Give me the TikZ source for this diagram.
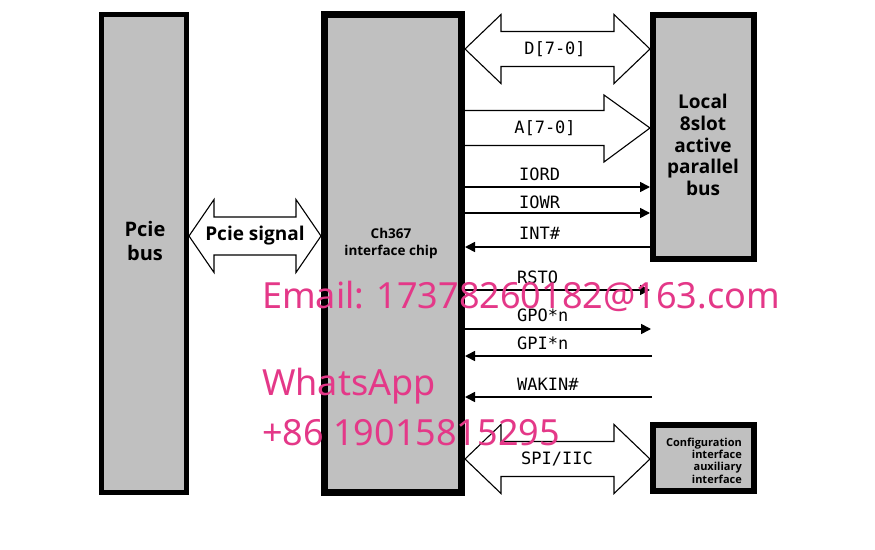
\documentclass[tikz,border=0pt]{standalone}
\usepackage{fontspec}
\setmainfont{Open Sans}
\newfontfamily\wmf{Noto Sans}
\newfontfamily\monof{DejaVu Sans Mono}
\usetikzlibrary{arrows.meta,calc}
\definecolor{boxgray}{RGB}{192,192,192}
\definecolor{wmpink}{RGB}{228,56,136}
\newcommand\dblblock[6]{%
  \draw[blockarrow] (#1,#3) -- (#1+#6,#3-#5) -- (#1+#6,#3-#4) -- (#2-#6,#3-#4) -- (#2-#6,#3-#5) -- (#2,#3)
    -- (#2-#6,#3+#5) -- (#2-#6,#3+#4) -- (#1+#6,#3+#4) -- (#1+#6,#3+#5) -- cycle;}
\tikzset{
  box/.style={draw=black, fill=boxgray, inner sep=0pt},
  blockarrow/.style={draw=black, line width=1.1pt, fill=white, line join=miter},
  sig/.style={draw=black, line width=1.6pt, -{Triangle[length=10pt,width=10pt]}},
  siglabel/.style={anchor=west, inner sep=0pt, font=\monof\fontsize{17}{17}\selectfont},
  wm/.style={anchor=west, inner sep=0pt, text=wmpink, font=\wmf\fontsize{36}{36}\selectfont}
}
\begin{document}
\begin{tikzpicture}[x=1pt,y=-1pt]
\useasboundingbox[fill=white] (0,0) rectangle (875,549);
% boxes
\node[box, line width=5pt, minimum width=85pt, minimum height=478pt] (pcie) at (144,253.5) {};
\node[box, line width=7pt, minimum width=137pt, minimum height=478pt] (chip) at (393,253.5) {};
\node[box, line width=6pt, minimum width=101pt, minimum height=244pt] (local) at (703.5,137) {};
\node[box, line width=6pt, minimum width=101pt, minimum height=66pt] (cfg) at (703.5,458) {};
% box texts
\node[align=center, inner sep=0pt, font=\bfseries\fontsize{20}{24}\selectfont] (pcietxt) at (145,241) {Pcie\\bus};
\node[align=center, inner sep=0pt, font=\bfseries\fontsize{13.5}{17}\selectfont] (chiptxt) at (391,243.5) {Ch367\\interface chip};
\node[align=center, inner sep=0pt, font=\bfseries\fontsize{19}{21.7}\selectfont] (localtxt) at (703,145) {Local\\8slot\\active\\parallel\\bus};
\node[align=right, inner sep=0pt, anchor=east, font=\bfseries\fontsize{11}{12.4}\selectfont] (cfgtxt) at (742,460.5) {Configuration\\interface\\auxiliary\\interface};
% block arrows
\dblblock{189}{321}{236}{19}{36.5}{25}
\node[inner sep=0pt, font=\bfseries\fontsize{19}{19}\selectfont] (pciesig) at (255,236) {Pcie signal};
\dblblock{465}{650}{49}{17.5}{34.5}{36}
\node[inner sep=0pt, font=\monof\fontsize{17}{17}\selectfont] (dlab) at (555,49) {D[7-0]};
\draw[blockarrow] (465,110.5) -- (604,110.5) -- (604,95) -- (650,128) -- (604,162) -- (604,145.5) -- (465,145.5);
\node[inner sep=0pt, font=\monof\fontsize{17}{17}\selectfont] (alab) at (545,128) {A[7-0]};
\dblblock{465}{650}{459}{17.5}{34.5}{36}
\node[inner sep=0pt, font=\monof\fontsize{17}{17}\selectfont] (spilab) at (557,459) {SPI/IIC};
% signal lines
\coordinate (gpoend) at (651,329);
\coordinate (gpiend) at (652,356);
\coordinate (wakend) at (652,397);
\draw[sig] (chip.east |- 0,187) -- (local.west |- 0,187);
\node[siglabel] (iord) at (519,174) {IORD};
\draw[sig] (chip.east |- 0,213) -- (local.west |- 0,213);
\node[siglabel] (iowr) at (519,202) {IOWR};
\draw[sig] (local.west |- 0,247) -- (chip.east |- 0,247);
\node[siglabel] (int) at (519,233) {INT\#};
\draw[sig] (chip.east |- 0,290) -- (local.west |- 0,290);
\node[siglabel] (rsto) at (517,277) {RSTO};
\draw[sig] (chip.east |- gpoend) -- (gpoend);
\node[siglabel] (gpo) at (517,315) {GPO*n};
\draw[sig] (gpiend) -- (chip.east |- gpiend);
\node[siglabel] (gpi) at (517,343) {GPI*n};
\draw[sig] (wakend) -- (chip.east |- wakend);
\node[siglabel] (wak) at (517,384) {WAKIN\#};
% watermark
\node[wm] (email) at (262,296) {Email: 17378260182@163.com};
\node[wm] (whats) at (262,386) {WhatsApp};
\node[wm] (phone) at (262,433) {+86 19015815295};
\end{tikzpicture}
\end{document}
